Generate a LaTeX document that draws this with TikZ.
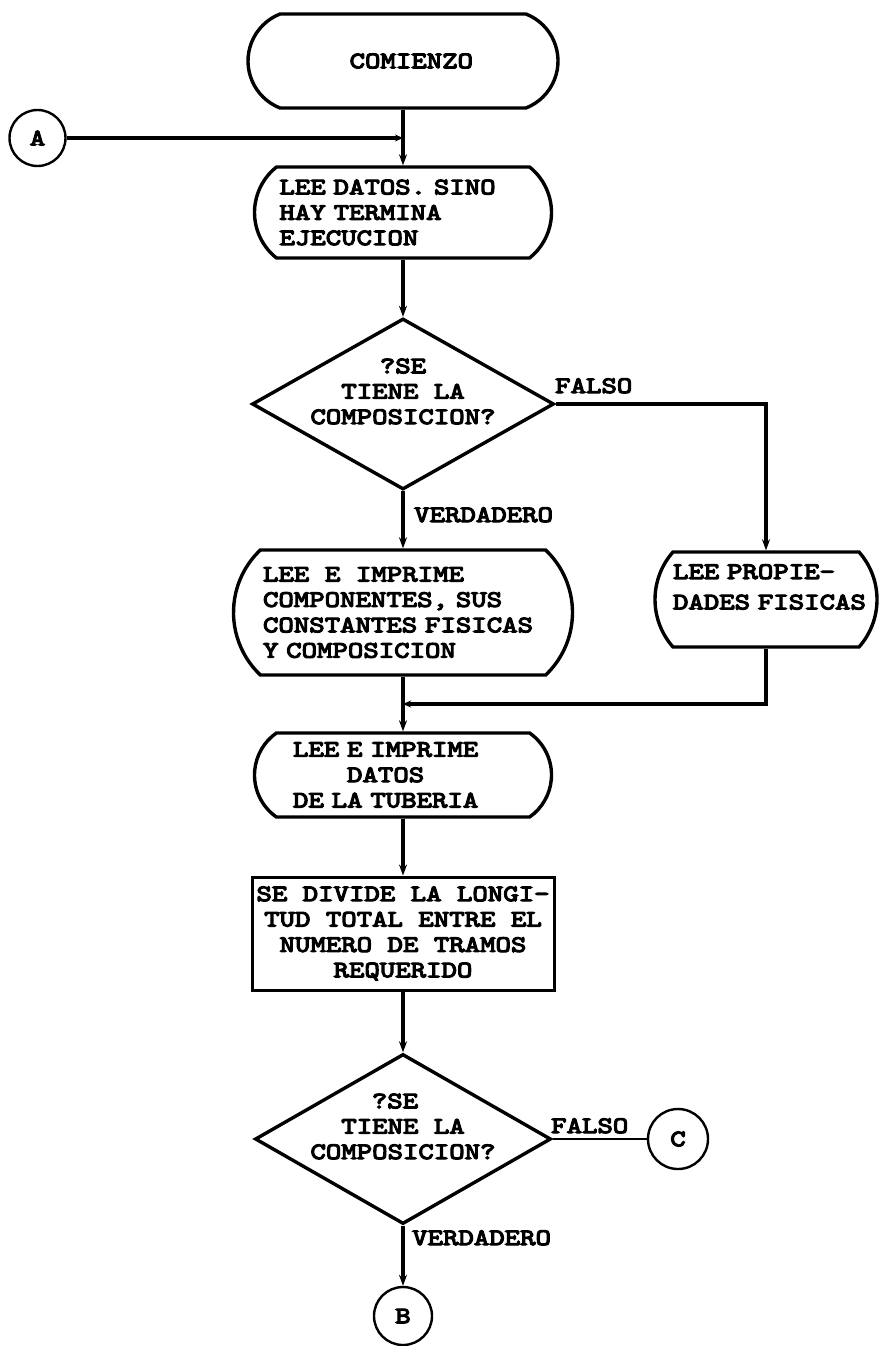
\documentclass[tikz,border=0pt]{standalone}
\usepackage{fontspec}
% typewriter face, widened to the pitch of an office typewriter
\newfontfamily\tw{lmmono10-regular.otf}[FakeStretch=1.25,FakeBold=5]
\usetikzlibrary{shapes.geometric,shapes.misc,arrows.meta}

\begin{document}
\begin{tikzpicture}[x=1pt,y=-1pt,
  every node/.style={font=\tw\fontsize{23.5}{25.4}\selectfont, inner sep=0pt},
  term/.style={rounded rectangle, rounded rectangle arc length=#1, draw, line width=3.4pt},
  proc/.style={rectangle, draw, line width=3pt},
  decide/.style={diamond, draw, line width=3.4pt, aspect=1.77, inner sep=-30pt, align=center},
  conn/.style={circle, draw, line width=2.4pt},
  flow/.style={line width=3.2pt, -{Stealth[length=11pt,width=8pt]}},
  joinflow/.style={line width=3.2pt, -{Stealth[length=8pt,width=7pt]}},
  wire/.style={line width=2.2pt},
  lbl/.style={anchor=base west},
]
\fill[white] (0,0) rectangle (879,1346);
\useasboundingbox (0,0) rectangle (879,1346);

% main column
\node[term=137, minimum width=310, minimum height=94, text width=140, align=right]
  (start) at (403,61) {COMIENZO};
\node[conn, minimum size=56] (A) at (37.5,138) {A};
\node[term=103, minimum width=297, minimum height=91, text width=247, align=left]
  (read) at (403,212.5) {LEE DATOS. SINO\\HAY TERMINA\\EJECUCION};
\node[decide, minimum width=302, minimum height=171]
  (q1) at (403,404) {?SE\\TIENE LA\\COMPOSICION?\\\mbox{}};
\node[term=93, minimum width=339, minimum height=125, text width=280, align=left]
  (comp) at (403,612.5) {LEE~~E~~IMPRIME\\COMPONENTES, SUS\\CONSTANTES FISICAS\\Y COMPOSICION};
\node[term=83, minimum width=222, minimum height=95, text width=186, align=left]
  (props) at (766,599.5) {\mbox{LEE PROPIE-}\\[5pt]\mbox{DADES FISICAS}\\\mbox{}};
\node[term=110, minimum width=297, minimum height=84, text width=220, align=left]
  (pipe) at (403,775) {LEE E IMPRIME\\\phantom{LEE~}DATOS\\DE LA TUBERIA};
\node[proc, minimum width=302, minimum height=113, align=center]
  (split) at (403,933.5) {SE DIVIDE LA LONGI-\\TUD TOTAL ENTRE EL\\NUMERO DE TRAMOS\\REQUERIDO};
\node[decide, minimum width=296, minimum height=170]
  (q2) at (403,1139) {?SE\hspace*{16pt}\\TIENE LA\hspace*{16pt}\\COMPOSICION?\hspace*{16pt}\\\mbox{}};
\node[conn, minimum size=60] (C) at (678,1139) {C};
\node[conn, minimum size=58] (B) at (403,1316) {B};

% junction points
\coordinate (jA) at (start.south |- A.east);
\coordinate (jM) at (403,704);

% connectors
\draw[flow] (start.south) -- (read.north);
\draw[joinflow] (A.east) -- (jA);
\draw[flow] (read.south) -- (q1.north);
\draw[flow] (q1.east) -| (props.north);
\draw[flow] (q1.south) -- (comp.north);
\draw[flow] (comp.south) -- (pipe.north);
\draw[joinflow] (props.south) |- (jM);
\draw[flow] (pipe.south) -- (split.north);
\draw[flow] (split.south) -- (q2.north);
\draw[wire] (q2.east) -- (C.west);
\draw[flow] (q2.south) -- (B.north);

% branch labels
\node[lbl] (f1) at (555,393) {FALSO};
\node[lbl] (v1) at (414,522) {VERDADERO};
\node[lbl] (f2) at (551,1133) {FALSO};
\node[lbl] (v2) at (412,1245) {VERDADERO};
\end{tikzpicture}
\end{document}
